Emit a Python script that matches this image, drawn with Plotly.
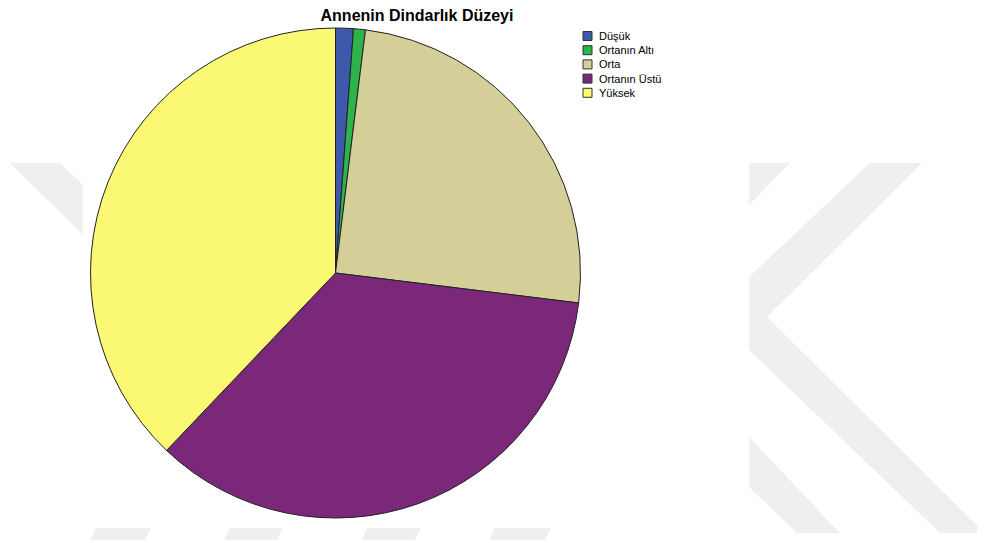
import plotly.graph_objects as go

W, H = 985, 543
OFF = 8  # page body margin offset

categories = ["Düşük", "Ortanın Altı", "Orta", "Ortanın Üstü", "Yüksek"]
counts = [3, 2, 64, 90, 97]
colors = ["#3E58AC", "#2CB34A", "#D4CF98", "#7B287A", "#FBF873"]
title_text = "Annenin Dindarlık Düzeyi"

def P(x, y):
    return (x - OFF) / W, 1 - (y - OFF) / H

def path(points):
    pts = [P(x, y) for x, y in points]
    return "M " + " L ".join(f"{a:.5f},{b:.5f}" for a, b in pts) + " Z"

wm_color = "#EFEFEF"
watermark = [
    [(10, 163), (60, 163), (83, 185), (83, 235)],
    [(749, 163), (790, 163), (749, 205)],
    [(749, 277), (870, 163), (922, 163), (767, 317), (985, 533), (940, 533), (749, 350)],
    [(749, 437), (840, 533), (797, 533), (749, 487)],
    [(96, 528), (151, 528), (145, 540), (90, 540)],
    [(230, 528), (283, 528), (277, 540), (224, 540)],
    [(367, 528), (421, 528), (415, 540), (362, 540)],
    [(494, 528), (551, 528), (545, 540), (490, 540)],
]
shapes = [dict(type="path", path=path(p), xref="paper", yref="paper",
               fillcolor=wm_color, line=dict(width=0), layer="below")
          for p in watermark]

# manual legend built from the category / colour arrays
annotations = []
leg_x, leg_y0, leg_dy = 583, 36, 14.2
for i, (name, col) in enumerate(zip(categories, colors)):
    yc = leg_y0 + i * leg_dy
    ax0, ay0 = P(leg_x, yc - 4.5)
    ax1, ay1 = P(leg_x + 9, yc + 4.5)
    shapes.append(dict(type="rect", xref="paper", yref="paper",
                       x0=ax0, x1=ax1, y0=ay1, y1=ay0,
                       fillcolor=col, line=dict(color="#333333", width=1)))
    tx, ty = P(leg_x + 14, yc)
    annotations.append(dict(text=name, x=tx, y=ty, xref="paper", yref="paper",
                            xanchor="left", yanchor="middle", showarrow=False,
                            font=dict(size=11, color="#000000",
                                      family="Liberation Sans, Arial, sans-serif")))

cx, cy, r = 335.5, 273, 245
x0, _ = P(cx - r, 0)
x1, _ = P(cx + r, 0)
_, y1 = P(0, cy - r)
_, y0 = P(0, cy + r)

fig = go.Figure(go.Pie(
    labels=categories,
    values=counts,
    marker=dict(colors=colors, line=dict(color="#222222", width=1)),
    sort=False,
    direction="clockwise",
    rotation=0,
    textinfo="none",
    hoverinfo="label+value+percent",
    domain=dict(x=[x0, x1], y=[y0, y1]),
    showlegend=False,
))

tx, ty = P(417, 15)
fig.update_layout(
    width=W, height=H,
    margin=dict(l=0, r=0, t=0, b=0),
    paper_bgcolor="white",
    plot_bgcolor="white",
    shapes=shapes,
    annotations=annotations,
    title=dict(text="<b>" + title_text + "</b>", x=tx, xanchor="center", y=ty, yanchor="middle",
               font=dict(family="Liberation Sans, Arial, sans-serif", size=16, color="#000000"),
               xref="paper", yref="paper"),
    font=dict(family="Liberation Sans, Arial, sans-serif"),
    showlegend=False,
)

fig.write_html("out.html")
